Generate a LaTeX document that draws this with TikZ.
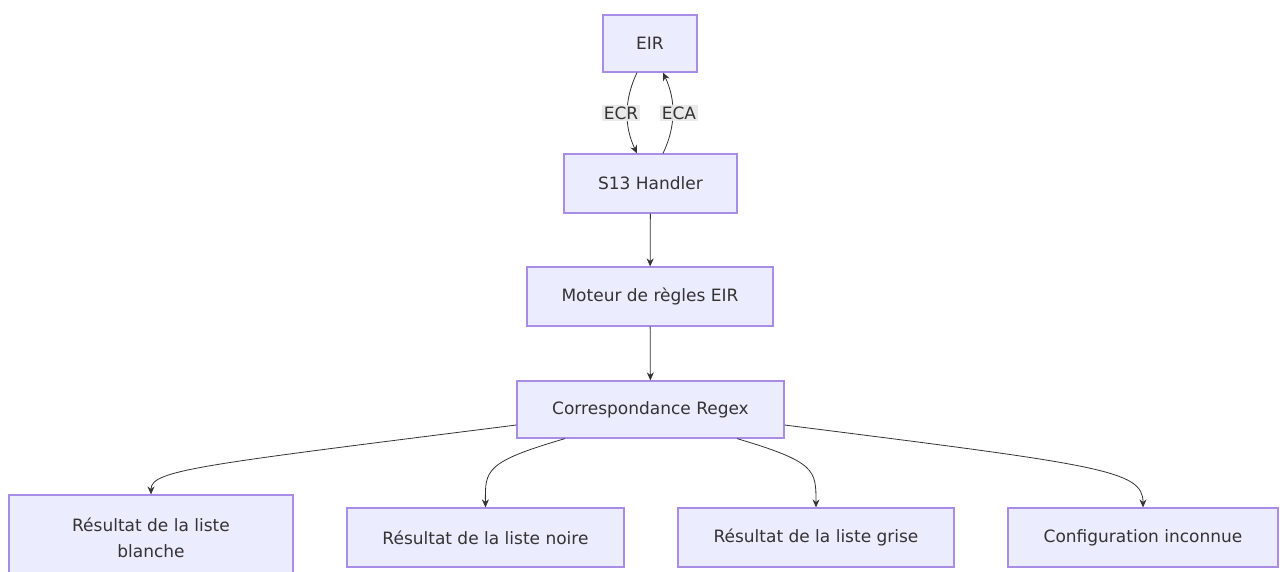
\documentclass[tikz,border=0pt]{standalone}
\usepackage{fontspec}
\setmainfont{DejaVu Sans}
\usetikzlibrary{arrows.meta}
\definecolor{boxfill}{HTML}{ECECFF}
\definecolor{boxline}{HTML}{A98CE6}
\definecolor{ink}{HTML}{333333}
\begin{document}
\begin{tikzpicture}[x=1pt,y=-1pt,
		box/.style={draw=boxline,fill=boxfill,line width=1.2pt,inner sep=0pt,text=ink,font=\fontsize{17}{26}\selectfont},
		edge/.style={draw=ink,line width=0.8pt,-{Stealth[length=8pt,width=7pt]}},
		tag/.style={fill=black!9,fill opacity=0.9,text opacity=1,text=ink,inner sep=1.5pt,font=\fontsize{17}{19}\selectfont}]
		\useasboundingbox (0,0) rectangle (1280,572);
		% boxes
		\node[box,minimum width=94pt,minimum height=57pt] (eir) at (650,43.5) {EIR};
		\node[box,minimum width=173pt,minimum height=59pt] (handler) at (650.5,183.5) {S13 Handler};
		\node[box,minimum width=246pt,minimum height=59pt] (moteur) at (650,296.5) {Moteur de règles EIR};
		\node[box,minimum width=267pt,minimum height=57pt] (regex) at (650.5,409.5) {Correspondance Regex};
		\node[box,minimum width=284pt,minimum height=85pt,align=center] (blanche) at (151,537.5) {Résultat de la liste\\blanche};
		\node[box,minimum width=277pt,minimum height=59pt] (noire) at (485.5,537.5) {Résultat de la liste noire};
		\node[box,minimum width=276pt,minimum height=59pt] (grise) at (816,537.5) {Résultat de la liste grise};
		\node[box,minimum width=270pt,minimum height=59pt] (inconnue) at (1143,537.5) {Configuration inconnue};
		% EIR <-> handler
		\draw[edge] (eir.south-|637,0) .. controls (624,100) and (624,126) .. (handler.north-|637,0);
		\draw[edge] (handler.north-|663,0) .. controls (676,126) and (676,100) .. (eir.south-|663,0);
		\node[tag] (ecr) at (621,113) {ECR};
		\node[tag] (eca) at (679,113) {ECA};
		% chain
		\draw[edge] (handler) -- (moteur);
		\draw[edge] (moteur) -- (regex);
		% results
		\draw[edge] (regex.west|-0,425) .. controls (200,465) and (151,470) .. (blanche.north);
		\draw[edge] (regex.south-|565,0) .. controls (485,462) and (485,470) .. (noire.north);
		\draw[edge] (regex.south-|737,0) .. controls (816,462) and (816,470) .. (grise.north);
		\draw[edge] (regex.east|-0,425) .. controls (1100,465) and (1143,470) .. (inconnue.north);
\end{tikzpicture}
\end{document}
